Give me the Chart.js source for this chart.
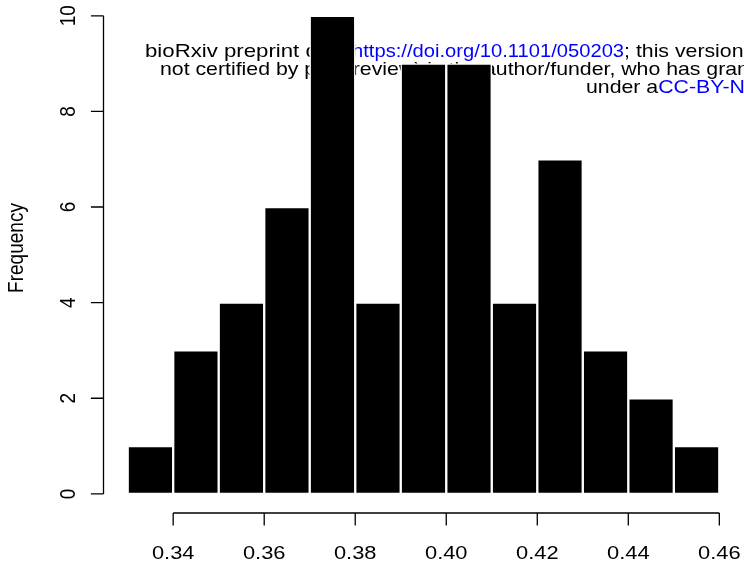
<!DOCTYPE html>
<html>
<head>
<meta charset="utf-8">
<script src="https://cdn.jsdelivr.net/npm/chart.js@4/dist/chart.umd.min.js"></script>
<style>
  html, body { margin: 0; padding: 0; background: #fff; }
  canvas { display: block; }
</style>
</head>
<body>
<canvas id="hist" width="744" height="569"></canvas>
<script>
// Histogram bins (break points) and counts per bin
const binEdges = [0.33, 0.34, 0.35, 0.36, 0.37, 0.38, 0.39, 0.40, 0.41, 0.42, 0.43, 0.44, 0.45, 0.46];
const counts = [1, 3, 4, 6, 10, 4, 9, 9, 4, 7, 3, 2, 1];

// Axis ticks
const xTickValues = [0.34, 0.36, 0.38, 0.40, 0.42, 0.44, 0.46];
const xTickLabels = ['0.34', '0.36', '0.38', '0.40', '0.42', '0.44', '0.46'];
const yTickValues = [0, 2, 4, 6, 8, 10];
const yTickLabels = ['0', '2', '4', '6', '8', '10'];
const yAxisTitle = 'Frequency';

// Preprint banner: each segment has its own start (null = follow previous) and width factor
const bannerLines = [
  { y: 57, parts: [
    { x: 145, sx: 1.2, text: 'bioRxiv preprint doi: ', color: '#000' },
    { x: 352, sx: 1.09, text: 'https://doi.org/10.1101/050203', color: '#0000ff' },
    { x: null, sx: 1.15, text: '; this version posted', color: '#000' }
  ] },
  { y: 75, parts: [
    { x: 160, sx: 1.15, text: 'not certified by peer review) is the author/funder, who has granted bioRxiv', color: '#000' }
  ] },
  { y: 93, parts: [
    { x: 586, sx: 1.15, text: 'under a', color: '#000' },
    { x: null, sx: 1.15, text: 'CC-BY-NC-ND 4.0 International license', color: '#0000ff' }
  ] }
];

const FONT = '"Liberation Sans", Arial, Helvetica, sans-serif';
const STRETCH = 1.15;

// one bar per bin, centred between its break points
const barData = counts.map((c, i) => ({ x: (binEdges[i] + binEdges[i + 1]) / 2, y: c }));

const bannerPlugin = {
  id: 'banner',
  beforeDatasetsDraw(chart) {
    const ctx = chart.ctx;
    ctx.save();
    ctx.font = '18.5px ' + FONT;
    ctx.textBaseline = 'alphabetic';
    ctx.textAlign = 'left';
    for (const line of bannerLines) {
      let cx = 0;
      for (const p of line.parts) {
        if (p.x !== null) cx = p.x;
        ctx.save();
        ctx.translate(cx, line.y);
        ctx.scale(p.sx, 1);
        ctx.fillStyle = p.color;
        ctx.fillText(p.text, 0, 0);
        ctx.restore();
        cx += ctx.measureText(p.text).width * p.sx;
      }
    }
    ctx.restore();
  }
};

// R-style axes: line spans first..last tick, ticks point outward
const axesPlugin = {
  id: 'rAxes',
  afterDraw(chart) {
    const ctx = chart.ctx;
    const xs = chart.scales.x, ys = chart.scales.y;
    const area = chart.chartArea;
    const tick = 12.6;
    ctx.save();
    ctx.strokeStyle = '#000';
    ctx.lineWidth = 1.3;
    ctx.lineCap = 'butt';

    // y axis
    const ax = area.left - 0.5;
    ctx.beginPath();
    ctx.moveTo(ax, ys.getPixelForValue(yTickValues[0]));
    ctx.lineTo(ax, ys.getPixelForValue(yTickValues[yTickValues.length - 1]));
    for (const v of yTickValues) {
      const py = ys.getPixelForValue(v);
      ctx.moveTo(ax, py);
      ctx.lineTo(ax - tick, py);
    }
    // x axis
    const ay = area.bottom;
    ctx.moveTo(xs.getPixelForValue(xTickValues[0]), ay);
    ctx.lineTo(xs.getPixelForValue(xTickValues[xTickValues.length - 1]), ay);
    for (const v of xTickValues) {
      const px = xs.getPixelForValue(v);
      ctx.moveTo(px, ay);
      ctx.lineTo(px, ay + tick);
    }
    ctx.stroke();

    ctx.fillStyle = '#000';
    ctx.font = '19px ' + FONT;
    ctx.textAlign = 'center';
    ctx.textBaseline = 'alphabetic';

    // x tick labels
    xTickValues.forEach((v, i) => {
      ctx.save();
      ctx.translate(xs.getPixelForValue(v), 559);
      ctx.scale(STRETCH, 1);
      ctx.fillText(xTickLabels[i], 0, 0);
      ctx.restore();
    });
    // y tick labels (rotated, reading upward)
    yTickValues.forEach((v, i) => {
      ctx.save();
      ctx.translate(75, ys.getPixelForValue(v));
      ctx.scale(STRETCH, 1);
      ctx.rotate(-Math.PI / 2);
      ctx.fillText(yTickLabels[i], 0, 0);
      ctx.restore();
    });
    // y axis title
    ctx.save();
    ctx.translate(23, 248);
    ctx.scale(STRETCH, 1);
    ctx.rotate(-Math.PI / 2);
    ctx.fillText(yAxisTitle, 0, 0);
    ctx.restore();

    ctx.restore();
  }
};

new Chart(document.getElementById('hist'), {
  type: 'bar',
  data: {
    datasets: [{
      data: barData,
      backgroundColor: '#000',
      borderColor: '#fff',
      borderWidth: 1.5,
      borderSkipped: false,
      barPercentage: 1,
      categoryPercentage: 1
    }]
  },
  options: {
    responsive: false,
    animation: false,
    devicePixelRatio: 1,
    layout: { padding: { left: 104, right: 1, top: 0, bottom: 56 } },
    plugins: { legend: { display: false }, tooltip: { enabled: false } },
    scales: {
      x: { type: 'linear', min: 0.3248, max: 0.4652, display: false, offset: false },
      y: { type: 'linear', min: -0.4, max: 10.33, display: false }
    }
  },
  plugins: [bannerPlugin, axesPlugin]
});
</script>
</body>
</html>
